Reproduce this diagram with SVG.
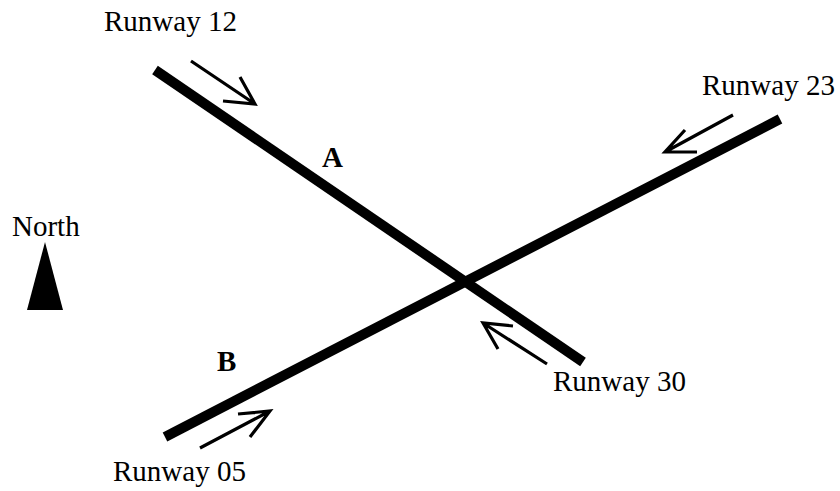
<svg xmlns="http://www.w3.org/2000/svg" width="840" height="491" viewBox="0 0 840 491">
<style>
.rw{stroke:#000;stroke-width:10;fill:none}
.ar{stroke:#000;stroke-width:3.2;fill:none;stroke-linecap:butt}
.t{font-family:"Liberation Serif","Times New Roman",serif;font-size:29px;fill:#000}
.b{font-weight:bold}
</style>
<rect width="840" height="491" fill="#fff"/>
<g id="connectors">
<line id="runway-12-30" class="rw" x1="155" y1="70" x2="583" y2="362"/>
<line id="runway-05-23" class="rw" x1="165" y1="437" x2="780" y2="119"/>
<g id="arrow-12"><path class="ar" d="M191,61 L255,104 M240,77 L255,104 L223,101"/></g>
<g id="arrow-23"><path class="ar" d="M733,115 L665,152 M685,130 L665,152 L697,152"/></g>
<g id="arrow-30"><path class="ar" d="M547,364 L483,323 M513,326 L483,323 L498,349"/></g>
<g id="arrow-05"><path class="ar" d="M200,448 L270,411 M238,414 L270,411 L250,437"/></g>
</g>
<g id="north"><polygon points="45,242 27,310 63,310" fill="#000"/><text class="t" x="12" y="236">North</text></g>
<g id="label-12"><text class="t" x="104" y="31">Runway 12</text></g>
<g id="label-23"><text class="t" x="702" y="95">Runway 23</text></g>
<g id="label-30"><text class="t" x="553" y="391">Runway 30</text></g>
<g id="label-05"><text class="t" x="113" y="481">Runway 05</text></g>
<g id="label-A"><text class="t b" x="322" y="167">A</text></g>
<g id="label-B"><text class="t b" x="217" y="371">B</text></g>
</svg>
